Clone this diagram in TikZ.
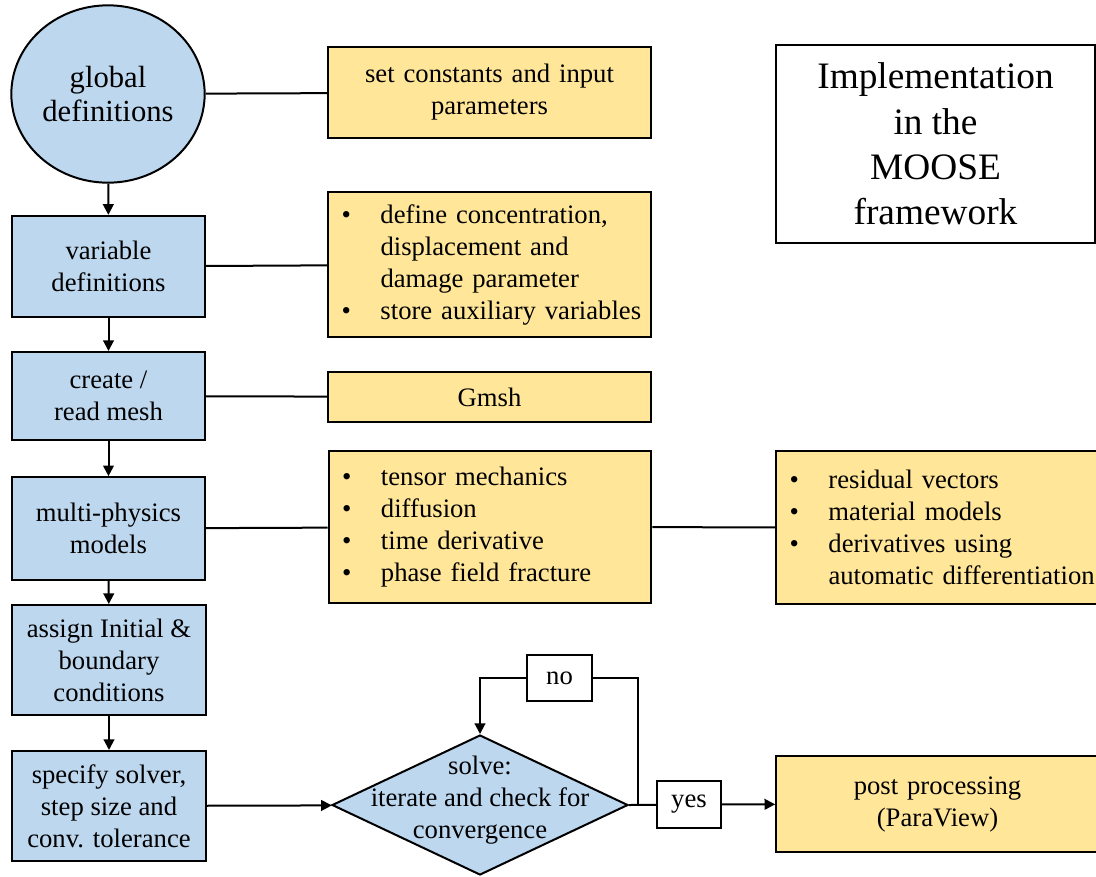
\documentclass[tikz,border=0pt]{standalone}
\usepackage{fontspec}
\setmainfont{Liberation Serif}
\usetikzlibrary{arrows.meta,shapes.geometric}
\definecolor{stepblue}{RGB}{189,215,238}
\definecolor{notegold}{RGB}{255,230,153}
\newcommand{\bul}[1]{\makebox[222pt][l]{\makebox[29.25pt][l]{\textbullet}#1}}
\newcommand{\bcont}[1]{\makebox[222pt][l]{\hspace*{29.25pt}#1}}

\begin{document}
\begin{tikzpicture}[x=0.75pt,y=-0.75pt,line width=1.5pt,
    stepbox/.style={draw,fill=stepblue,align=center,inner sep=0pt,
      minimum width=145pt,font=\fontsize{20}{24}\selectfont},
    notebox/.style={draw,fill=notegold,inner xsep=10pt,inner ysep=0pt,
      text width=222pt,font=\fontsize{20}{24}\selectfont},
    tagbox/.style={draw,fill=white,inner sep=0pt,
      font=\fontsize{20}{24}\selectfont},
    flow/.style={-{Triangle[length=8pt,width=8pt]}}]
    \useasboundingbox (0,0) rectangle (1096,876);
    \clip (0,0) rectangle (1096,876);
    % left column
    \node[ellipse,draw,fill=stepblue,minimum width=145pt,minimum height=133pt,
      inner sep=0pt,align=center,font=\fontsize{23}{26}\selectfont]
      (glob) at (108,94) {global\\definitions};
    \node[stepbox,minimum height=76pt] (var) at (108.5,266.5) {variable\\definitions};
    \node[stepbox,minimum height=66pt] (mesh) at (108.5,396) {create /\\read mesh};
    \node[stepbox,minimum height=77pt] (phys) at (108.5,528.5) {multi-physics\\models};
    \node[stepbox,minimum height=82.5pt] (init) at (109,660)
      {assign Initial \&\\boundary\\conditions};
    \node[stepbox,minimum height=82.5pt] (solver) at (109,806)
      {specify solver,\\step size and\\conv. tolerance};
    % notes
    \node[notebox,align=center,minimum height=68pt] (const) at (489.5,92.5)
      {set constants and input\\parameters};
    \node[notebox,align=left,minimum height=109pt] (vlist) at (489.5,264.5)
      {\bul{define concentration,}\\\bcont{displacement and}\\
       \bcont{damage parameter}\\\bul{store auxiliary variables}};
    \node[notebox,align=center,minimum height=37.5pt] (gmsh) at (489.5,397) {Gmsh};
    \node[notebox,align=left,minimum height=114pt] (plist) at (490,527)
      {\bul{tensor mechanics}\\\bul{diffusion}\\\bul{time derivative}\\
       \bul{phase field fracture}};
    \node[notebox,align=left,minimum height=115pt] (rlist) at (937.5,527.5)
      {\bul{residual vectors}\\\bul{material models}\\\bul{derivatives using}\\
       \bcont{automatic differentiation}};
    \node[notebox,align=center,minimum height=72pt] (post) at (937.5,804)
      {post processing\\(ParaView)};
    % title
    \node[draw,fill=white,minimum width=239pt,minimum height=148.5pt,align=center,
      font=\fontsize{28}{34}\selectfont] (title) at (935.5,144)
      {Implementation\\in the\\MOOSE\\framework};
    % solve step
    \node[diamond,draw,fill=stepblue,minimum width=222pt,minimum height=105pt,
      inner sep=0pt] (solve) at (480,805) {};
    \node[align=center,font=\fontsize{20}{24}\selectfont] (solvetxt) at (480,800)
      {solve:\\iterate and check for\\convergence};
    \node[tagbox,minimum width=48.75pt,minimum height=34.5pt] (no) at (559.5,678) {no};
    \node[tagbox,minimum width=48pt,minimum height=35pt] (yes) at (689,804.5) {yes};
    % connectors
    \draw (glob) -- (const);
    \draw (var) -- (vlist);
    \draw (mesh) -- (gmsh);
    \draw (phys) -- (plist);
    \draw (plist) -- (rlist);
    \draw[flow] (glob) -- (var);
    \draw[flow] (var) -- (mesh);
    \draw[flow] (mesh) -- (phys);
    \draw[flow] (phys) -- (init);
    \draw[flow] (init) -- (solver);
    \draw[flow] (solver) -- (solve);
    \draw (solve.east) -- (yes);
    \draw[flow] (yes) -- (post);
    % loop back
    \coordinate (tap) at ([xshift=6.75pt]solve.east);
    \draw (tap) |- (no);
    \draw[flow] (no) -| (solve.north);
  \end{tikzpicture}
\end{document}
